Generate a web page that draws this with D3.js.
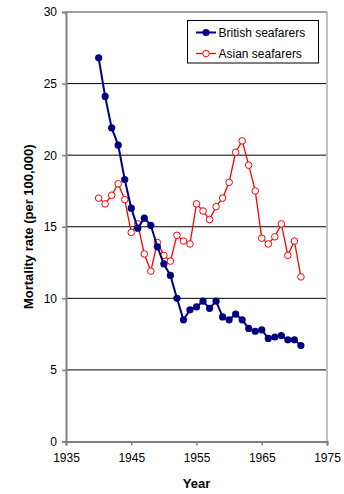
<!DOCTYPE html>
<html>
<head>
<meta charset="utf-8">
<script src="https://cdn.jsdelivr.net/npm/d3@7"></script>
<style>
  body { margin: 0; background: #fff; }
  svg { display: block; font-family: "Liberation Sans", Arial, sans-serif; }
</style>
</head>
<body>
<div id="chart"></div>
<script>
const years = [1940, 1941, 1942, 1943, 1944, 1945, 1946, 1947, 1948, 1949, 1950,
    1951, 1952, 1953, 1954, 1955, 1956, 1957, 1958, 1959, 1960, 1961, 1962,
    1963, 1964, 1965, 1966, 1967, 1968, 1969, 1970, 1971];
const british = [26.8, 24.1, 21.9, 20.7, 18.3, 16.3, 14.9, 15.6, 15.1, 13.6, 12.4,
    11.6, 10.0, 8.5, 9.2, 9.4, 9.8, 9.3, 9.8, 8.7, 8.5, 8.9, 8.5,
    7.9, 7.7, 7.8, 7.2, 7.3, 7.4, 7.1, 7.1, 6.7];
const asian = [17.0, 16.6, 17.2, 18.0, 16.9, 14.6, 15.2, 13.1, 11.9, 13.9, 13.0,
    12.6, 14.4, 14.0, 13.8, 16.6, 16.1, 15.5, 16.4, 17.0, 18.1, 20.2, 21.0,
    19.3, 17.5, 14.2, 13.8, 14.3, 15.2, 13.0, 14.0, 11.5];
const xTicks = [1935, 1945, 1955, 1965, 1975];
const yTicks = [0, 5, 10, 15, 20, 25, 30];

const width = 344, height = 494;
const margin = {top: 12, right: 17, bottom: 52.5, left: 66};

const svg = d3.select('#chart').append('svg')
    .attr('width', width)
    .attr('height', height);

const x = d3.scaleLinear().domain([1935, 1975]).range([margin.left, width - margin.right]);
const y = d3.scaleLinear().domain([0, 30]).range([height - margin.bottom, margin.top]);

// gridlines
svg.append('g')
    .selectAll('line')
    .data(yTicks.filter(d => d > 0 && d < 30))
    .join('line')
        .attr('x1', x(1935)).attr('x2', x(1975))
        .attr('y1', d => y(d)).attr('y2', d => y(d))
        .attr('stroke', '#000')
        .attr('stroke-width', 1);

// top and right frame
svg.append('line')
    .attr('x1', x(1935)).attr('x2', x(1975))
    .attr('y1', y(30)).attr('y2', y(30))
    .attr('stroke', '#808080').attr('stroke-width', 1.5);
svg.append('line')
    .attr('x1', x(1975)).attr('x2', x(1975))
    .attr('y1', y(30)).attr('y2', y(0))
    .attr('stroke', '#c0c0c0').attr('stroke-width', 2);

// axes
const yAxis = svg.append('g')
    .attr('transform', `translate(${x(1935)},0)`)
    .call(d3.axisLeft(y).tickValues(yTicks).tickSize(4).tickPadding(5));
const xAxis = svg.append('g')
    .attr('transform', `translate(0,${y(0)})`)
    .call(d3.axisBottom(x).tickValues(xTicks).tickFormat(d3.format('d')).tickSize(4).tickPadding(8));

[yAxis, xAxis].forEach(ax => {
    ax.select('.domain').attr('stroke', '#808080').attr('stroke-width', 2);
    ax.selectAll('.tick line').attr('stroke', '#808080').attr('stroke-width', 1.5);
    ax.selectAll('.tick text')
        .attr('fill', '#000')
        .style('font-size', '12px')
        .style('font-family', '"Liberation Sans", Arial, sans-serif');
});

// axis titles
svg.append('text')
    .attr('x', (x(1935) + x(1975)) / 2)
    .attr('y', 488)
    .attr('text-anchor', 'middle')
    .style('font-size', '13px')
    .style('font-weight', 'bold')
    .text('Year');

svg.append('text')
    .attr('transform', `translate(33,${(y(0) + y(30)) / 2}) rotate(-90)`)
    .attr('text-anchor', 'middle')
    .style('font-size', '13px')
    .style('font-weight', 'bold')
    .text('Mortality rate (per 100,000)');

// series
const line = d3.line()
    .x((d, i) => x(years[i]))
    .y(d => y(d));

svg.append('path')
    .datum(asian)
    .attr('fill', 'none')
    .attr('stroke', '#ff0000')
    .attr('stroke-width', 1.3)
    .attr('d', line);

svg.append('g')
    .selectAll('circle')
    .data(asian)
    .join('circle')
        .attr('cx', (d, i) => x(years[i]))
        .attr('cy', d => y(d))
        .attr('r', 3.3)
        .attr('fill', '#fff')
        .attr('stroke', '#ff0000')
        .attr('stroke-width', 1);

svg.append('path')
    .datum(british)
    .attr('fill', 'none')
    .attr('stroke', '#000080')
    .attr('stroke-width', 2)
    .attr('d', line);

svg.append('g')
    .selectAll('circle')
    .data(british)
    .join('circle')
        .attr('cx', (d, i) => x(years[i]))
        .attr('cy', d => y(d))
        .attr('r', 3.6)
        .attr('fill', '#000080');

// legend
const legend = svg.append('g');
legend.append('rect')
    .attr('x', 187.5).attr('y', 20.5)
    .attr('width', 131).attr('height', 42.5)
    .attr('fill', '#fff')
    .attr('stroke', '#000')
    .attr('stroke-width', 1);

const legendItems = [
    {name: 'British seafarers', color: '#000080', filled: true},
    {name: 'Asian seafarers', color: '#ff0000', filled: false}
];
legendItems.forEach((item, i) => {
    const ly = 32.5 + i * 21;
    legend.append('line')
        .attr('x1', 196).attr('x2', 216)
        .attr('y1', ly).attr('y2', ly)
        .attr('stroke', item.color)
        .attr('stroke-width', item.filled ? 2 : 1.3);
    legend.append('circle')
        .attr('cx', 206).attr('cy', ly)
        .attr('r', item.filled ? 3.6 : 3.3)
        .attr('fill', item.filled ? item.color : '#fff')
        .attr('stroke', item.filled ? 'none' : item.color);
    legend.append('text')
        .attr('x', 218.5).attr('y', ly)
        .attr('dy', '0.35em')
        .style('font-size', '12px')
        .text(item.name);
});
</script>
</body>
</html>
